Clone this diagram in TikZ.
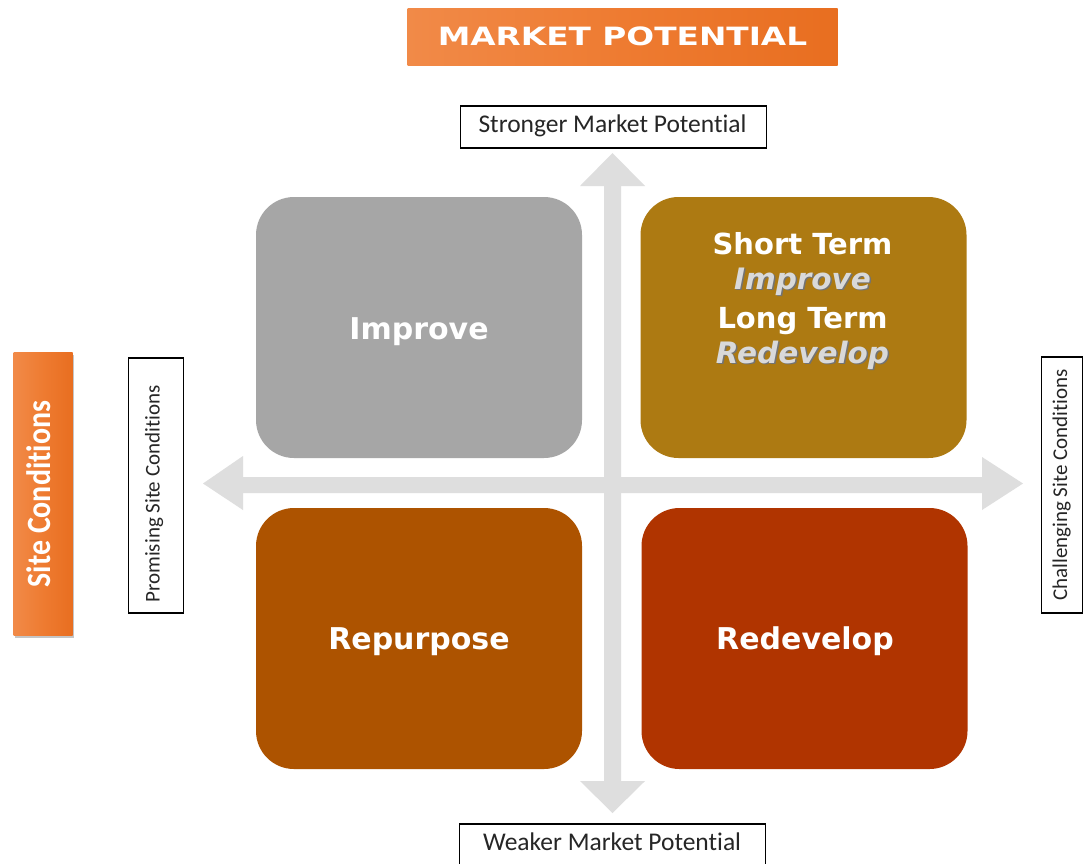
\documentclass[tikz,border=0pt]{standalone}
\usepackage{fontspec}
\usetikzlibrary{shadows}
\newfontfamily\boxfont{DejaVu Sans}[ItalicFont={DejaVu Sans Oblique},BoldItalicFont={DejaVu Sans Bold Oblique}]
\newfontfamily\titlefont[FakeStretch=1.3]{DejaVu Sans}
\newfontfamily\calfont[Ligatures=NoCommon]{Carlito}
\newfontfamily\narrowfont[FakeStretch=0.88,Ligatures=NoCommon]{Carlito}
\definecolor{axisgray}{HTML}{DEDEDE}
\definecolor{qgray}{HTML}{A6A6A6}
\definecolor{qgold}{HTML}{AD7A12}
\definecolor{qbrown}{HTML}{AD5300}
\definecolor{qred}{HTML}{B03400}
\definecolor{orangeL}{HTML}{F18A48}
\definecolor{orangeM}{HTML}{EE7B31}
\definecolor{orangeR}{HTML}{E86E20}
\definecolor{italgray}{HTML}{D9D9D9}
\tikzset{
  quad/.style={rounded corners=38pt, minimum width=326pt, minimum height=261pt, inner sep=0pt},
  quadtext/.style={text=white, font=\boxfont\bfseries\fontsize{30}{36}\selectfont, anchor=base, inner sep=0pt},
  termtext/.style={text=white, font=\boxfont\bfseries\fontsize{29}{35}\selectfont, anchor=base, inner sep=0pt},
  italtext/.style={text=italgray, font=\boxfont\bfseries\itshape\fontsize{29.5}{35}\selectfont, anchor=base, inner sep=0pt},
  italshadow/.style={italtext, text=black!55},
  labelbox/.style={draw=black, line width=1.3pt, fill=white, inner sep=0pt},
  labeltext/.style={font=\calfont\fontsize{25.5}{30}\selectfont, text=black!85, anchor=base, inner sep=0pt},
  vlabeltext/.style={font=\calfont\fontsize{21}{25}\selectfont, text=black!85, anchor=base, inner sep=0pt, rotate=90},
  orangebox/.style={left color=orangeL, right color=orangeR, middle color=orangeM, inner sep=0pt},
}
\begin{document}
\begin{tikzpicture}[x=1pt,y=-1pt]
\useasboundingbox (0,0) rectangle (1083,863);
\fill[white] (0,0) rectangle (1083,863);

% title
\node[orangebox, minimum width=430pt, minimum height=57pt, text=white,
      font=\titlefont\bfseries\fontsize{25.2}{30}\selectfont] (title) at (622.5,36.5) {MARKET POTENTIAL};

% axes (double arrows)
\fill[axisgray] (604,186) -- (580,186) -- (612.5,153) -- (645,186) -- (621,186)
  -- (621,781) -- (645,781) -- (612.5,813) -- (580,781) -- (604,781) -- cycle;
\fill[axisgray] (243,477) -- (243,456) -- (203,483.5) -- (243,510) -- (243,493)
  -- (982,493) -- (982,510) -- (1023,483.5) -- (982,457) -- (982,477) -- cycle;

% quadrants
\node[quad, fill=qgray]  (improve)   at (419,327.5) {};
\node[quad, fill=qgold]  (shortlong) at (803.5,327.5) {};
\node[quad, fill=qbrown] (repurpose) at (419,638.5) {};
\node[quad, fill=qred]   (redevelop) at (804.5,638.5) {};

\node[quadtext] (improvetxt) at (419,339) {Improve};
\node[quadtext] (repurposetxt) at (419,649) {Repurpose};
\node[quadtext] (redeveloptxt) at (805,649) {Redevelop};

\node[termtext] (st1) at (802.5,254) {Short Term};
\node[italshadow] (st2s) at (804,290.5) {Improve};
\node[italtext] (st2) at (802.5,289) {Improve};
\node[termtext] (st3) at (802.5,328) {Long Term};
\node[italshadow] (st4s) at (804,364.5) {Redevelop};
\node[italtext] (st4) at (802.5,363) {Redevelop};

% axis labels
\node[labelbox, minimum width=306pt, minimum height=42pt] (strongbox) at (613.5,127) {};
\node[labeltext] (strongtxt) at (612.5,132) {Stronger Market Potent\kern0pt ial};
\node[labelbox, minimum width=306pt, minimum height=50pt] (weakbox) at (612.5,849) {};
\node[labeltext] (weaktxt) at (612,850) {Weaker Market Potent\kern0pt ial};
\node[labelbox, minimum width=55pt, minimum height=255pt] (promisebox) at (156,485.5) {};
\node[vlabeltext] (promisetxt) at (159.5,494) {Promising Site Condit\kern0pt ions};
\node[labelbox, minimum width=41pt, minimum height=256pt] (challbox) at (1062,485) {};
\node[vlabeltext] (challtxt) at (1067,485) {Challenging Site Condit\kern0pt ions};

% site conditions
\node[orangebox, minimum width=59pt, minimum height=283pt,
      drop shadow={shadow xshift=1.5pt, shadow yshift=-3pt, opacity=0.45}] (sitebox) at (43,493.5) {};
\node[text=white, font=\narrowfont\bfseries\fontsize{34}{40}\selectfont, rotate=90, anchor=base, inner sep=0pt]
  (sitetxt) at (50,494) {Site Condit\kern0pt ions};
\end{tikzpicture}
\end{document}
